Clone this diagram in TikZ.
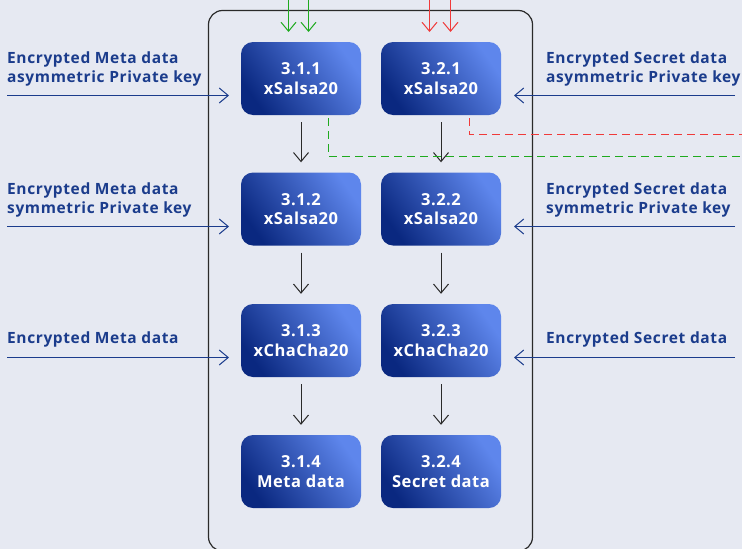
\documentclass[tikz,border=0pt]{standalone}
\usepackage{fontspec}
\setmainfont{Open Sans}
\newfontfamily\labfont[LetterSpace=4]{Open Sans}
\newfontfamily\boxfont[LetterSpace=3]{Open Sans}
\usetikzlibrary{arrows.meta}
\definecolor{bg}{HTML}{E6E9F2}
\definecolor{lbl}{HTML}{1B3C8C}
\definecolor{boxdark}{HTML}{0A2880}
\definecolor{boxlight}{HTML}{5E86EC}
\definecolor{grn}{HTML}{1FAA1F}
\definecolor{rd}{HTML}{F03A3A}
\definecolor{frame}{HTML}{2A2A2A}
\begin{document}
\begin{tikzpicture}[x=1pt,y=-1pt,
  box/.style={rounded corners=12pt, minimum width=120pt, minimum height=73pt, inner sep=0pt,
    bottom color=boxdark, top color=boxlight, shading angle=-55, draw=none,
    text=white, align=center, font=\boxfont\fontsize{16.5}{19.5}\selectfont\bfseries},
  lab/.style={text=lbl, align=left, anchor=north west, inner sep=0pt,
    font=\labfont\fontsize{15.5}{19.5}\selectfont\bfseries},
  inarrow/.style={draw=lbl, line width=1pt, -{Straight Barb[length=9pt,width=15pt]}},
  dnarrow/.style={draw=frame, line width=1pt, -{Straight Barb[length=9pt,width=15pt]}},
  garrow/.style={draw=grn, line width=1pt, -{Straight Barb[length=9pt,width=15pt]}},
  rarrow/.style={draw=rd, line width=1pt, -{Straight Barb[length=9pt,width=15pt]}},
  gdash/.style={draw=grn, line width=1pt, dash pattern=on 8pt off 5pt},
  rdash/.style={draw=rd, line width=1pt, dash pattern=on 8pt off 5pt}]
\fill[bg] (0,0) rectangle (742,549);
\useasboundingbox (0,0) rectangle (742,549);
\begin{scope}
\clip (0,0) rectangle (742,549);
\draw[frame, line width=1.2pt, rounded corners=14pt] (208.5,10.5) rectangle (532.5,551);
\end{scope}

% boxes
\node[box] (b11) at (301,78.5) {3.1.1\\xSalsa20};
\node[box] (b12) at (301,209) {3.1.2\\xSalsa20};
\node[box] (b13) at (301,340.5) {3.1.3\\xChaCha20};
\node[box] (b14) at (301,471.5) {3.1.4\\Meta data};
\node[box] (b21) at (441,78.5) {3.2.1\\xSalsa20};
\node[box] (b22) at (441,209) {3.2.2\\xSalsa20};
\node[box] (b23) at (441,340.5) {3.2.3\\xChaCha20};
\node[box] (b24) at (441,471.5) {3.2.4\\Secret data};

% vertical arrows
\foreach \a/\b in {b11/b12,b12/b13,b13/b14,b21/b22,b22/b23,b23/b24}
  \draw[dnarrow, shorten <=7pt, shorten >=10pt] (\a.south) -- (\b.north);

% labels
\node[lab] (l1) at (7,51.5) {Encrypted Meta data\\asymmetric Private key};
\node[lab] (l2) at (7,182.5) {Encrypted Meta data\\symmetric Private key};
\node[lab] (l3) at (7,331.5) {Encrypted Meta data};
\node[lab] (r1) at (546,51.5) {Encrypted Secret data\\asymmetric Private key};
\node[lab] (r2) at (546,182.5) {Encrypted Secret data\\symmetric Private key};
\node[lab] (r3) at (546,331.5) {Encrypted Secret data};

% input coordinates
\coordinate (L1s) at (7,95.5);   \coordinate (L1e) at (229,95.5);
\coordinate (L2s) at (7,226.5);  \coordinate (L2e) at (229,226.5);
\coordinate (L3s) at (7,357.5);  \coordinate (L3e) at (229,357.5);
\coordinate (R1s) at (735,95.5);  \coordinate (R1e) at (514,95.5);
\coordinate (R2s) at (735,226.5); \coordinate (R2e) at (514,226.5);
\coordinate (R3s) at (735,357.5); \coordinate (R3e) at (514,357.5);
\foreach \s in {L1,L2,L3,R1,R2,R3}
  \draw[inarrow] (\s s) -- (\s e);

% top arrows
\coordinate (g1s) at (288.5,0); \coordinate (g1e) at (288.5,32);
\coordinate (g2s) at (308.5,0); \coordinate (g2e) at (308.5,32);
\coordinate (r1s) at (429.5,0); \coordinate (r1e) at (429.5,32);
\coordinate (r2s) at (450.5,0); \coordinate (r2e) at (450.5,32);
\draw[garrow] (g1s) -- (g1e);
\draw[garrow] (g2s) -- (g2e);
\draw[rarrow] (r1s) -- (r1e);
\draw[rarrow] (r2s) -- (r2e);

% dashed outputs
\coordinate (gds) at (328.5,118); \coordinate (gde) at (742,156.5);
\coordinate (rds) at (469.5,118); \coordinate (rde) at (742,134.5);
\draw[gdash] (gds) |- (gde);
\draw[rdash] (rds) |- (rde);
\end{tikzpicture}
\end{document}
